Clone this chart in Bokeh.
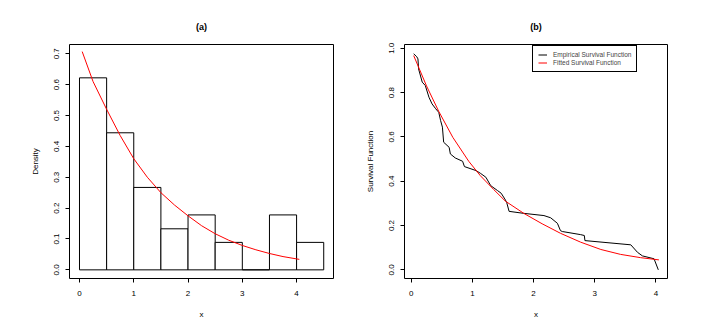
from bokeh.plotting import figure
from bokeh.layouts import row
from bokeh.models import Range1d, FixedTicker, NumeralTickFormatter, Legend, LegendItem, Title
from bokeh.embed import file_html
from bokeh.resources import INLINE

# ---------------- data ----------------
# (a) histogram of x (density scale)
bin_left = [0.0, 0.5, 1.0, 1.5, 2.0, 2.5, 3.0, 3.5, 4.0]
bin_right = [0.5, 1.0, 1.5, 2.0, 2.5, 3.0, 3.5, 4.0, 4.5]
density = [0.622, 0.444, 0.267, 0.133, 0.178, 0.089, 0.0, 0.178, 0.089]

# (a) fitted density curve
pdf_x = [0.05, 0.25, 0.5, 0.75, 1.0, 1.25, 1.5, 1.75, 2.0, 2.25, 2.5, 2.75, 3.0, 3.25, 3.5, 3.75, 4.05]
pdf_y = [0.707, 0.61, 0.52, 0.435, 0.36, 0.30, 0.25, 0.21, 0.175, 0.143, 0.117, 0.096, 0.079, 0.065, 0.053, 0.043, 0.034]

# (b) empirical survival function
emp_x = [0.04, 0.09, 0.11, 0.12, 0.18, 0.23, 0.29, 0.34, 0.40, 0.45, 0.48, 0.51, 0.53, 0.62, 0.64, 0.72,
         0.84, 0.87, 1.06, 1.13, 1.22, 1.30, 1.41, 1.47, 1.53, 1.56, 1.60, 1.84, 2.17, 2.28, 2.39, 2.44,
         2.47, 2.77, 2.83, 2.84, 3.59, 3.70, 3.78, 3.97, 4.04]
emp_y = [0.975, 0.962, 0.952, 0.907, 0.847, 0.832, 0.779, 0.749, 0.727, 0.711, 0.674, 0.644, 0.576, 0.553, 0.523, 0.505,
         0.49, 0.466, 0.448, 0.436, 0.418, 0.38, 0.358, 0.346, 0.32, 0.305, 0.264, 0.255, 0.245, 0.235, 0.21, 0.177,
         0.173, 0.159, 0.155, 0.132, 0.113, 0.079, 0.063, 0.05, 0.0]

# (b) fitted survival function
fit_x = [0.04, 0.25, 0.45, 0.68, 0.94, 1.13, 1.35, 1.54, 1.84, 2.14, 2.44, 2.77, 3.10, 3.42, 3.75, 4.05]
fit_y = [0.967, 0.83, 0.715, 0.598, 0.49, 0.425, 0.362, 0.31, 0.255, 0.208, 0.165, 0.125, 0.092, 0.07, 0.055, 0.045]

x_ticks = [0, 1, 2, 3, 4]
ya_ticks = [0.0, 0.1, 0.2, 0.3, 0.4, 0.5, 0.6, 0.7]
yb_ticks = [0.0, 0.2, 0.4, 0.6, 0.8, 1.0]

FONT = "Liberation Sans"
FS = "8px"


def style(p, xticks, yticks, xlabel, ylabel, title):
    p.outline_line_color = "black"
    p.outline_line_width = 1
    p.outline_line_alpha = 1.0
    p.xgrid.visible = False
    p.ygrid.visible = False
    p.background_fill_color = "white"
    p.border_fill_color = "white"
    # spacer nearest the frame, then the bold panel title above it
    p.add_layout(Title(text=" ", text_font=FONT, text_font_size="6px", standoff=0), "above")
    p.add_layout(Title(text=title, align="center", text_font=FONT, text_font_size="9px",
                       text_font_style="bold", text_color="black"), "above")
    for ax in (p.xaxis[0], p.yaxis[0]):
        ax.axis_line_color = None
        ax.major_tick_in = 0
        ax.major_tick_out = 4
        ax.major_tick_line_color = "black"
        ax.minor_tick_line_color = None
        ax.major_label_text_font = FONT
        ax.major_label_text_font_size = FS
        ax.major_label_text_color = "black"
        ax.axis_label_text_font = FONT
        ax.axis_label_text_font_size = FS
        ax.axis_label_text_font_style = "normal"
        ax.axis_label_text_color = "black"
    p.xaxis[0].ticker = FixedTicker(ticks=xticks)
    p.yaxis[0].ticker = FixedTicker(ticks=yticks)
    p.yaxis[0].formatter = NumeralTickFormatter(format="0.0")
    p.yaxis[0].major_label_orientation = "vertical"
    p.xaxis[0].axis_label = xlabel
    p.yaxis[0].axis_label = ylabel
    p.xaxis[0].major_label_standoff = 8
    p.xaxis[0].axis_label_standoff = 11
    p.yaxis[0].major_label_standoff = 6
    p.yaxis[0].axis_label_standoff = 12


# ---------------- panel (a) ----------------
p1 = figure(frame_width=264, frame_height=234, output_backend="svg", toolbar_location=None,
            x_range=Range1d(-0.184, 4.68), y_range=Range1d(-0.028, 0.73), title=None,
            min_border_left=69, min_border_right=19, min_border_top=44, min_border_bottom=42)
p1.quad(left=bin_left, right=bin_right, bottom=0, top=density,
        fill_color="white", line_color="black", line_width=1)
p1.line(pdf_x, pdf_y, line_color="red", line_width=1)
style(p1, x_ticks, ya_ticks, "x", "Density", "(a)")

# ---------------- panel (b) ----------------
p2 = figure(frame_width=263, frame_height=234, output_backend="svg", toolbar_location=None,
            x_range=Range1d(-0.11, 4.19), y_range=Range1d(-0.039, 1.017), title=None,
            min_border_left=52, min_border_right=29, min_border_top=44, min_border_bottom=42)
r_emp = p2.line(emp_x, emp_y, line_color="black", line_width=1)
r_fit = p2.line(fit_x, fit_y, line_color="red", line_width=1)
style(p2, x_ticks, yb_ticks, "x", "Survival Function", "(b)")

legend = Legend(items=[LegendItem(label="Empirical Survival Function", renderers=[r_emp]),
                       LegendItem(label="Fitted Survival Function", renderers=[r_fit])],
                location=(128, 206), padding=5, margin=0, spacing=1,
                glyph_width=9, glyph_height=7, label_height=7, label_standoff=6,
                label_text_font=FONT, label_text_font_size="6.5px",
                border_line_color="black", border_line_width=1, border_line_alpha=1.0,
                background_fill_color="white", background_fill_alpha=1.0)
p2.add_layout(legend)

layout = row(p1, p2)
open("out.html", "w").write(file_html(layout, INLINE))
